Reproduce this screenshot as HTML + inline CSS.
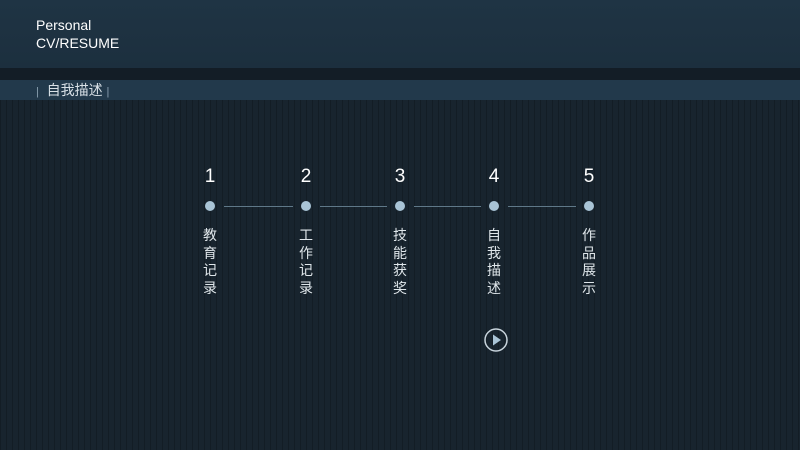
<!DOCTYPE html>
<html><head><meta charset="utf-8"><style>
body{margin:0;width:800px;height:450px;overflow:hidden;font-family:"Liberation Sans","Noto Sans CJK SC",sans-serif;
background:#18242e repeating-linear-gradient(90deg,rgba(0,0,0,0.2) 0 1px,transparent 1px 6px);position:relative}
.hd{position:absolute;left:0;top:0;width:800px;height:68px;background:linear-gradient(#1f3444,#1c2f3e);}
.hd2{position:absolute;left:0;top:68px;width:800px;height:12px;background:#131d26}
.bar{position:absolute;left:0;top:80px;width:800px;height:20px;background:#22394b}
.t{position:absolute;color:#fff;font-size:14px;line-height:18px}
.n{position:absolute;color:#fff;font-size:19px;width:30px;text-align:center;top:166px}
.d{position:absolute;width:10px;height:10px;border-radius:50%;background:#a9c4d6;top:201px}
.l{position:absolute;height:1px;background:#5f7888;top:206px}
.v{position:absolute;color:#dfe6ea;font-size:14px;width:20px;text-align:center;line-height:17.5px;top:227px}
</style></head><body>
<div class="hd"></div><div class="hd2"></div><div class="bar"></div>
<div class="t" style="left:36px;top:16px">Personal<br>CV/RESUME</div>
<div class="t" style="left:36px;top:81px;color:#d8e0e6"><span style="color:#8aa0b0;font-size:11px">|</span>&nbsp;&nbsp;自我描述 <span style="color:#8aa0b0;font-size:11px">|</span></div>
<div class="n" style="left:195px">1</div><div class="n" style="left:291px">2</div><div class="n" style="left:385px">3</div><div class="n" style="left:479px">4</div><div class="n" style="left:574px">5</div>
<div class="d" style="left:205px"></div><div class="d" style="left:301px"></div><div class="d" style="left:395px"></div><div class="d" style="left:489px"></div><div class="d" style="left:584px"></div>
<div class="l" style="left:224px;width:69px"></div><div class="l" style="left:320px;width:67px"></div><div class="l" style="left:414px;width:67px"></div><div class="l" style="left:508px;width:68px"></div>
<div class="v" style="left:200px">教育记录</div><div class="v" style="left:296px">工作记录</div><div class="v" style="left:390px">技能获奖</div><div class="v" style="left:484px">自我描述</div><div class="v" style="left:579px">作品展示</div>
<svg style="position:absolute;left:483px;top:327px" width="26" height="26"><circle cx="13" cy="13" r="11" fill="none" stroke="#c8d4dc" stroke-width="1.5"/><path d="M10 7.5 L18 13 L10 18.5Z" fill="#a9c4d6"/></svg>
</body></html>
